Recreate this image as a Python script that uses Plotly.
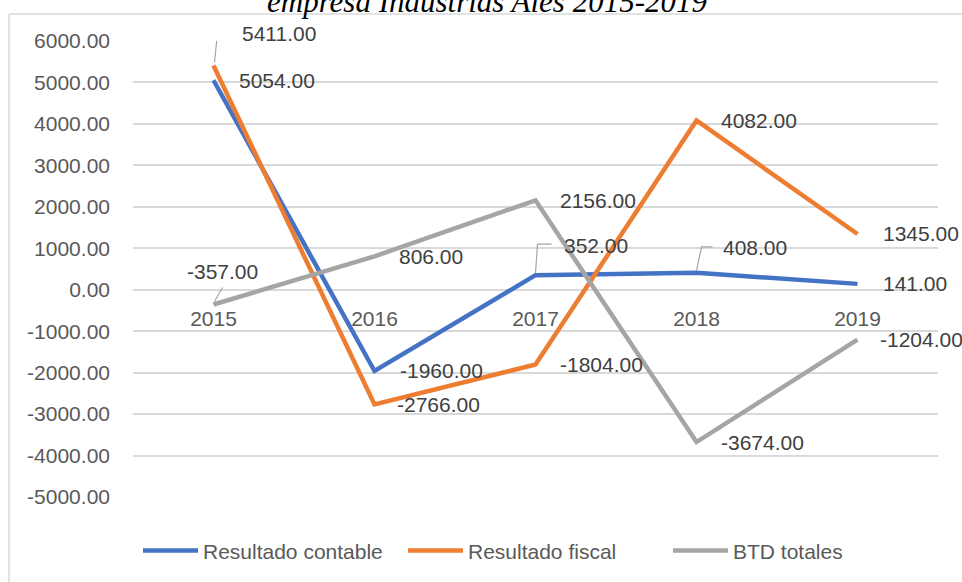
import plotly.graph_objects as go

years = ["2015", "2016", "2017", "2018", "2019"]
contable = [5054, -1960, 352, 408, 141]
fiscal = [5411, -2766, -1804, 4082, 1345]
btd = [-357, 806, 2156, -3674, -1204]
series_names = ["Resultado contable", "Resultado fiscal", "BTD totales"]
title_text = "empresa Industrias Ales 2015-2019"
y_tick_values = [6000, 5000, 4000, 3000, 2000, 1000, 0, -1000, -2000, -3000, -4000, -5000]
y_tick_labels = ["6000.00", "5000.00", "4000.00", "3000.00", "2000.00", "1000.00", "0.00",
                 "-1000.00", "-2000.00", "-3000.00", "-4000.00", "-5000.00"]

colors = ["#4472C4", "#ED7D31", "#A5A5A5"]
series = [contable, fiscal, btd]

# label offsets (pixels) per series/point: (xshift, yshift)
offsets = [
    [(23, 0), (23, 0), (26, 30), (24, 25), (23, 0)],
    [(26, 32), (20, 0), (22, 0), (22, 0), (23, 0)],
    [(-29, 33), (22, 0), (22, 0), (22, 0), (20, 0)],
]
# leader lines: (series index, point index, path in pixels relative to point)
leaders = [
    (1, 0, "M1,3 L4,32 L16,32"),
    (2, 0, "M1,3 L9,17"),
    (0, 2, "M0,2 L2,31 L16,31"),
    (0, 3, "M0,2 L5,26 L16,26"),
]

fig = go.Figure()
for name, vals, col in zip(series_names, series, colors):
    fig.add_trace(go.Scatter(x=years, y=vals, name=name, mode="lines",
                             line=dict(color=col, width=4.5)))

annotations = []
for s, vals in enumerate(series):
    for i, v in enumerate(vals):
        dx, dy = offsets[s][i]
        annotations.append(dict(
            x=i, y=v, xref="x", yref="y", text=f"{v:.2f}",
            showarrow=False, xanchor="left", yanchor="middle",
            xshift=dx, yshift=dy,
            font=dict(family="Liberation Sans", size=21, color="#404040")))

annotations.append(dict(
    x=0.44, y=1, xref="paper", yref="paper", text=title_text,
    showarrow=False, xanchor="center", yanchor="middle", yshift=40,
    font=dict(family="Liberation Serif", size=31, color="#000000", style="italic")))

shapes = []
for s, i, path in leaders:
    shapes.append(dict(type="path", xref="x", yref="y", xsizemode="pixel",
                       ysizemode="pixel", xanchor=i, yanchor=series[s][i],
                       path=path, line=dict(color="#A6A6A6", width=1.2)))
# chart border
shapes.append(dict(type="line", xref="paper", yref="paper", x0=-0.154, x1=1.06,
                   y0=1.0592, y1=1.0592, line=dict(color="#D9D9D9", width=1.5)))
shapes.append(dict(type="line", xref="paper", yref="paper", x0=-0.154, x1=-0.154,
                   y0=1.0592, y1=-0.3, line=dict(color="#D9D9D9", width=1.5)))

fig.update_layout(
    width=962, height=582,
    margin=dict(l=133, r=24, t=41, b=85, autoexpand=False),
    paper_bgcolor="white", plot_bgcolor="white",
    annotations=annotations, shapes=shapes,
    showlegend=True,
    legend=dict(orientation="h", x=0.0062, xanchor="left", y=-0.118, yanchor="middle",
                entrywidth=195, entrywidthmode="pixels",
                font=dict(family="Liberation Sans", size=21, color="#595959"),
                itemwidth=55),
    xaxis=dict(type="category", range=[-0.5, 4.5], showgrid=False, zeroline=False,
               showline=False, ticks="", anchor="free", position=5000/11000,
               ticklabelstandoff=14, automargin=False,
               tickfont=dict(family="Liberation Sans", size=21, color="#595959")),
    yaxis=dict(range=[-5000, 6000], tickmode="array", tickvals=y_tick_values,
               ticktext=y_tick_labels, showgrid=True, automargin=False,
               gridcolor="#D9D9D9", gridwidth=1.5, zeroline=False, showline=False,
               ticks="", ticklabelstandoff=22,
               tickfont=dict(family="Liberation Sans", size=21, color="#595959")),
)

fig.write_html("out.html", config={"displayModeBar": False},
               post_script="document.body.style.margin='0px';")
